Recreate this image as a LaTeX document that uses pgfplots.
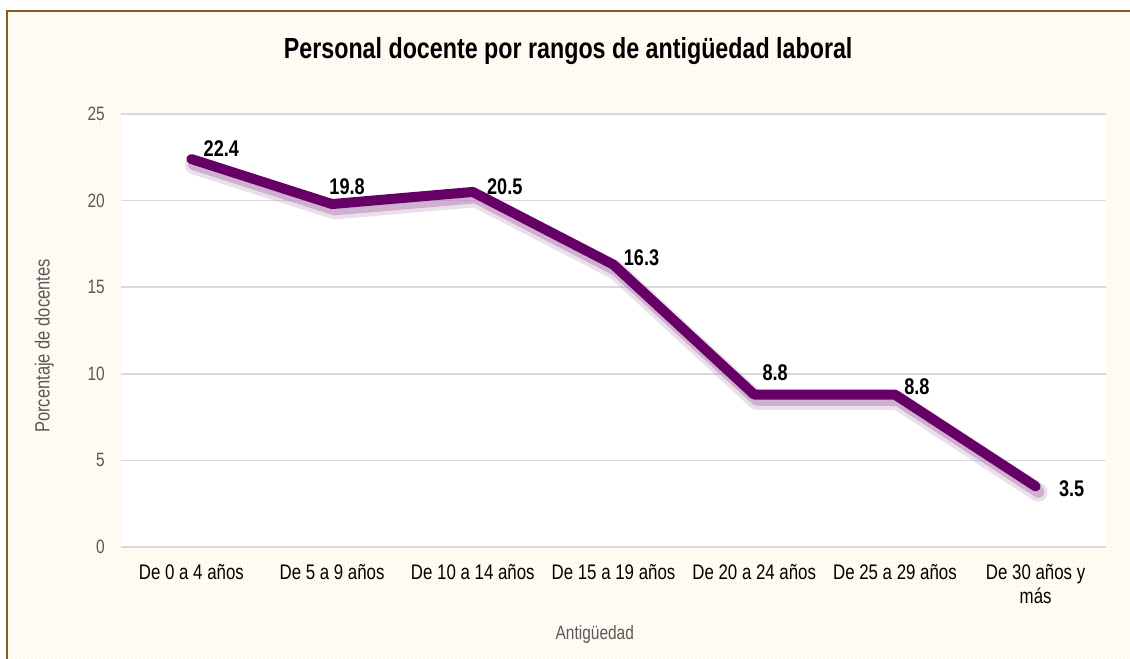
\documentclass[border=0pt]{standalone}
\usepackage{pgfplots}
\pgfplotsset{compat=1.18}
\usepackage{pgfplotstable}
\usetikzlibrary{patterns}
\usepackage{fontspec}
\setmainfont{Liberation Sans}[FakeStretch=0.8]
\definecolor{linepurple}{HTML}{660066}
\definecolor{shadowpurple}{HTML}{B482B4}
\definecolor{framebrown}{RGB}{140,90,40}
\definecolor{creambg}{RGB}{255,252,245}
\definecolor{dotcol}{RGB}{252,234,196}
\definecolor{gridgray}{HTML}{D9D9D9}
\definecolor{labgray}{HTML}{595959}

\pgfplotstableread{
x y dx dy lab
0 22.4 30 10 22.4
1 19.8 15 17 19.8
2 20.5 32 5 20.5
3 16.3 28 7 16.3
4 8.8 21 22 8.8
5 8.8 22 8 8.8
6 3.5 36 -2 3.5
}\datatable

\begin{document}
\begin{tikzpicture}
\begin{scope}[x=0.75pt,y=-0.75pt]
  \path[use as bounding box] (0,0) rectangle (1130,659);
  \fill[white] (0,0) rectangle (1130,659);
  \fill[creambg] (7,11) rectangle (1130,659);
  \fill[pattern=dots, pattern color=dotcol] (7,11) rectangle (1130,659);
  \draw[framebrown, line width=1.9pt] (7,659) -- (7,11) -- (1130,11);
\end{scope}
\begin{axis}[
  at={(90.75pt,-410.25pt)}, anchor=south west,
  scale only axis,
  width=738.75pt, height=324.75pt,
  xmin=-0.5, xmax=6.5, ymin=0, ymax=25,
  xtick={0,1,2,3,4,5,6},
  xticklabels={De 0 a 4 años, De 5 a 9 años, De 10 a 14 años, De 15 a 19 años, De 20 a 24 años, De 25 a 29 años, {De 30 años y\\más}},
  ytick={0,5,10,15,20,25},
  major tick length=0pt,
  axis line style={draw=none},
  ymajorgrids,
  grid style={gridgray, line width=1.1pt},
  axis background/.style={fill=white},
  /pgf/number format/assume math mode=true,
  xticklabel style={font=\fontsize{15.8}{17.5}\selectfont, text=black, anchor=north, inner sep=0pt, yshift=-13pt, align=center},
  yticklabel style={font=\fontsize{14.5}{16}\selectfont, text=labgray, anchor=east, inner sep=0pt, xshift=-12pt},
  title={Personal docente por rangos de antigüedad laboral},
  title style={font=\bfseries\fontsize{21.8}{24}\selectfont, at={(axis description cs:0.454,1.127)}, anchor=center},
  xlabel={Antigüedad},
  xlabel style={font=\fontsize{14.5}{16}\selectfont, text=labgray, at={(axis description cs:0.481,-0.203)}, anchor=center},
  ylabel={Porcentaje de docentes},
  ylabel style={font=\fontsize{15.5}{17}\selectfont, text=labgray, at={(axis description cs:-0.078,0.464)}, anchor=center},
  clip=false,
]
\addplot[shadowpurple, opacity=0.25, line width=14pt, line cap=round, line join=round,
  transform canvas={shift={(2pt,-4.5pt)}}] table[x=x,y=y] {\datatable};
\addplot[shadowpurple, opacity=0.5, line width=9pt, line cap=round, line join=round,
  transform canvas={shift={(2pt,-4pt)}}] table[x=x,y=y] {\datatable};
\addplot[linepurple, line width=7.5pt, line cap=round, line join=round,
  point meta=explicit symbolic,
  visualization depends on={\thisrow{dx} \as \dx},
  visualization depends on={\thisrow{dy} \as \dy},
  nodes near coords,
  every node near coord/.append style={font=\bfseries\fontsize{17}{18}\selectfont, text=black, anchor=center, inner sep=0pt, xshift={\dx*0.75pt}, yshift={\dy*0.75pt}},
] table[x=x,y=y,meta=lab] {\datatable};
\end{axis}
\end{tikzpicture}
\end{document}
